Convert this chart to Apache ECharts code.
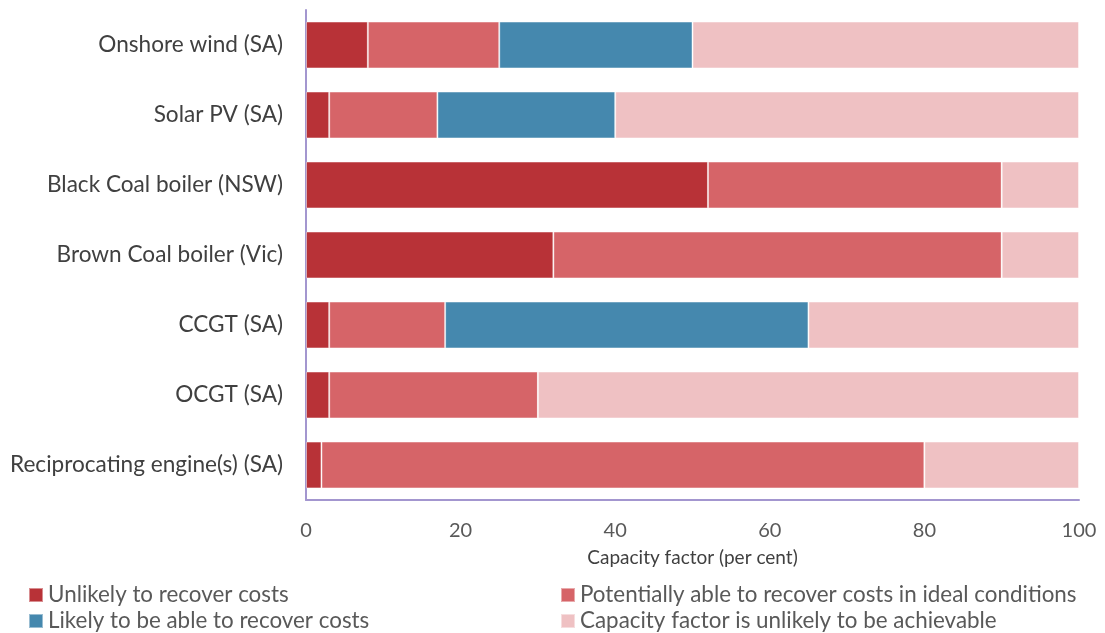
<!DOCTYPE html>
<html>
<head>
<meta charset="utf-8">
<script src="https://cdn.jsdelivr.net/npm/echarts@6/dist/echarts.min.js"></script>
<style>
  html, body { margin: 0; padding: 0; background: #fff; }
  #chart { width: 1105px; height: 633px; }
</style>
</head>
<body>
<div id="chart"></div>
<script>
// Technologies, top to bottom
const categories = [
  'Onshore wind (SA)',
  'Solar PV (SA)',
  'Black Coal boiler (NSW)',
  'Brown Coal boiler (Vic)',
  'CCGT (SA)',
  'OCGT (SA)',
  'Reciprocating engine(s) (SA)'
];

// Segment widths, capacity factor percentage points
const unlikely    = [8, 3, 52, 32, 3, 3, 2];
const potentially = [17, 14, 38, 58, 15, 27, 78];
const likely      = [25, 23, 0, 0, 47, 0, 0];
const unachievable = [50, 60, 10, 10, 35, 70, 20];

const xTicks = [0, 20, 40, 60, 80, 100];

const seriesNames = [
  'Unlikely to recover costs',
  'Potentially able to recover costs in ideal conditions',
  'Likely to be able to recover costs',
  'Capacity factor is unlikely to be achievable'
];
const colors = ['#b83237', '#d66468', '#4588ae', '#efc1c3'];

const FONT = 'Lato';

function bar(name, data, color) {
  return {
    name: name,
    type: 'bar',
    stack: 'cf',
    data: data,
    barCategoryGap: '33%',
    itemStyle: { color: color, borderColor: 'rgba(255,255,255,0.45)', borderWidth: 1 },
    emphasis: { disabled: true }
  };
}

// One legend entry per box so the two-column layout stays fixed
function legendItem(name, left, top) {
  return {
    data: [name],
    left: left, top: top,
    padding: 0,
    itemWidth: 14, itemHeight: 14,
    icon: 'rect',
    textStyle: { color: '#595959', fontSize: 22.4, fontFamily: FONT, padding: [0, 0, 0, 0] },
    selectedMode: false
  };
}

const chart = echarts.init(document.getElementById('chart'));
chart.setOption({
  animation: false,
  textStyle: { fontFamily: FONT },
  grid: { left: 306, right: 26, top: 10, bottom: 133 },
  xAxis: {
    type: 'value',
    min: xTicks[0],
    max: xTicks[xTicks.length - 1],
    interval: 20,
    name: 'Capacity factor (per cent)',
    nameLocation: 'middle',
    nameGap: 48,
    nameTextStyle: { color: '#404040', fontSize: 19, fontFamily: FONT },
    axisLine: { show: true, lineStyle: { color: '#a396cf', width: 2 } },
    axisTick: { show: false },
    splitLine: { show: false },
    axisLabel: { color: '#595959', fontSize: 20, margin: 21, fontFamily: FONT }
  },
  yAxis: {
    type: 'category',
    data: categories,
    inverse: true,
    axisLine: { show: true, lineStyle: { color: '#a396cf', width: 2 } },
    axisTick: { show: false },
    axisLabel: { color: '#404040', fontSize: 22.6, margin: 23, fontFamily: FONT }
  },
  legend: [
    legendItem(seriesNames[0], 28, 584),
    legendItem(seriesNames[2], 28, 610),
    legendItem(seriesNames[1], 560, 584),
    legendItem(seriesNames[3], 560, 610)
  ],
  series: [
    bar(seriesNames[0], unlikely, colors[0]),
    bar(seriesNames[1], potentially, colors[1]),
    bar(seriesNames[2], likely, colors[2]),
    bar(seriesNames[3], unachievable, colors[3])
  ]
});
</script>
</body>
</html>
